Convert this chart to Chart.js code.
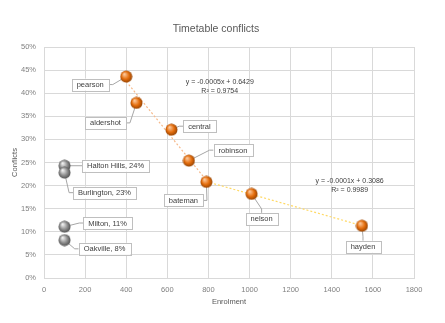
<!DOCTYPE html>
<html><head><meta charset="utf-8">
<script src="https://cdn.jsdelivr.net/npm/chart.js@4"></script>
<style>html,body{margin:0;padding:0;background:#fff}#wrap{width:445px;height:323px}</style>
</head><body><div id="wrap"><canvas id="c" width="445" height="323"></canvas></div>
<script>
// ---- data ----
const schoolNames = ['pearson','aldershot','central','robinson','bateman','nelson','hayden'];
const schoolEnrolment = [400,450,620,705,790,1010,1547];
const schoolConflicts = [0.436,0.379,0.321,0.254,0.208,0.182,0.113];
const townNames = ['Halton Hills','Burlington','Milton','Oakville'];
const townEnrolment = [100,100,100,100];
const townConflicts = [0.243,0.228,0.111,0.082];
const xTickValues = [0,200,400,600,800,1000,1200,1400,1600,1800];
const yTickValues = [0,0.05,0.10,0.15,0.20,0.25,0.30,0.35,0.40,0.45,0.50];
const trendGroups = [[0,1,2,3,4],[4,5,6]];
const trendEquations = ['y = -0.0005x + 0.6429','y = -0.0001x + 0.3086'];
const trendR2 = ['R² = 0.9754','R² = 0.9989'];

// ---- styling / label placement (pixel offsets from the point) ----
const schoolLabelOffsets = [[-36,8],[-31,20],[28,-3.5],[44,-10.5],[-23,18.5],[10,25],[1,21]];
const townLabelOffsets = [[51,0],[40,20],[43,-3.7],[40,8.7]];
const trendColors = ['#f6b98a','#ffd966'];
const eqAnchors = [[855,0.425],[1487,0.21]];

function sphere(light, mid, dark){
  const c=document.createElement('canvas'); c.width=13; c.height=13;
  const g=c.getContext('2d');
  const gr=g.createRadialGradient(4.5,4,0.5,6.5,6.5,6.5);
  gr.addColorStop(0,light); gr.addColorStop(0.55,mid); gr.addColorStop(1,dark);
  g.fillStyle=gr; g.beginPath(); g.arc(6.5,6.5,6,0,Math.PI*2); g.fill();
  return c;
}
const orangeBall = sphere('#fbc79a','#e46c0a','#8a3f05');
const greyBall = sphere('#f0f0f0','#8f8f8f','#4a4a4a');

function regress(xs, ys){
  const n=xs.length; const mx=xs.reduce((a,b)=>a+b,0)/n; const my=ys.reduce((a,b)=>a+b,0)/n;
  let sxy=0,sxx=0; for(let i=0;i<n;i++){sxy+=(xs[i]-mx)*(ys[i]-my); sxx+=(xs[i]-mx)**2;}
  const m=sxy/sxx; return {m, b: my-m*mx};
}
const trendDatasets = trendGroups.map((idx,k)=>{
  const xs=idx.map(i=>schoolEnrolment[i]), ys=idx.map(i=>schoolConflicts[i]);
  const r=regress(xs,ys); const x0=Math.min(...xs), x1=Math.max(...xs);
  return {type:'line', data:[{x:x0,y:r.m*x0+r.b},{x:x1,y:r.m*x1+r.b}], borderColor:trendColors[k],
    borderWidth:1.2, borderDash:[2,2], pointRadius:0, fill:false, order:3};
});

const FONT = '"Liberation Sans", Arial, sans-serif';
const labelPlugin = {
  id:'labels',
  beforeDatasetsDraw(chart){
    const ctx=chart.ctx;
    ctx.save();
    ctx.fillStyle='#595959'; ctx.font='10.5px '+FONT; ctx.textAlign='center'; ctx.textBaseline='middle';
    ctx.fillText('Timetable conflicts',216,29);
    ctx.font='7.5px '+FONT; ctx.fillStyle='#595959';
    ctx.fillText('Enrolment',(chart.chartArea.left+chart.chartArea.right)/2,302);
    ctx.save(); ctx.translate(15,(chart.chartArea.top+chart.chartArea.bottom)/2); ctx.rotate(-Math.PI/2);
    ctx.fillText('Conflicts',0,0); ctx.restore();
    // equations
    ctx.fillStyle='#404040'; ctx.font='7px '+FONT;
    const xs=chart.scales.x, ys=chart.scales.y;
    eqAnchors.forEach((a,k)=>{
      const px=xs.getPixelForValue(a[0]), py=ys.getPixelForValue(a[1]);
      ctx.fillText(trendEquations[k],px,py);
      ctx.fillText(trendR2[k],px,py+9.5);
    });
    // leader lines
    this._boxes=[];
    const groups=[[2,schoolNames.map(n=>n),schoolLabelOffsets],[3,townNames.map((n,i)=>n+', '+Math.round(townConflicts[i]*100)+'%'),townLabelOffsets]];
    ctx.font='7.5px '+FONT;
    groups.forEach(([di,texts,offs])=>{
      const meta=chart.getDatasetMeta(di);
      meta.data.forEach((el,i)=>{
        const w=ctx.measureText(texts[i]).width+10, h=12;
        const cx=el.x+offs[i][0], cy=el.y+offs[i][1];
        const L=cx-w/2, T=cy-h/2;
        this._boxes.push({L,T,w,h,text:texts[i],cx,cy});
        let ax,ay,sx,sy;
        if(el.x < L){ax=L;ay=cy;sx=ax-4;sy=ay;}
        else if(el.x > L+w){ax=L+w;ay=cy;sx=ax+4;sy=ay;}
        else if(el.y < T){ax=cx;ay=T;sx=ax;sy=ay-4;}
        else {ax=cx;ay=T+h;sx=ax;sy=ay+4;}
        ctx.strokeStyle='#a6a6a6'; ctx.lineWidth=1; ctx.beginPath();
        ctx.moveTo(ax,ay); ctx.lineTo(sx,sy); ctx.lineTo(el.x,el.y); ctx.stroke();
      });
    });
    ctx.restore();
  },
  afterDatasetsDraw(chart){
    const ctx=chart.ctx; ctx.save();
    ctx.font='7.5px '+FONT; ctx.textAlign='center'; ctx.textBaseline='middle';
    (this._boxes||[]).forEach(b=>{
      ctx.fillStyle='#ffffff'; ctx.fillRect(b.L,b.T,b.w,b.h);
      ctx.strokeStyle='#bfbfbf'; ctx.lineWidth=1; ctx.strokeRect(Math.round(b.L)+0.5,Math.round(b.T)+0.5,Math.round(b.w),Math.round(b.h));
      ctx.fillStyle='#404040'; ctx.fillText(b.text,b.cx,b.cy+0.5);
    });
    ctx.restore();
  }
};

new Chart(document.getElementById('c'),{
  type:'scatter',
  data:{datasets:[
    trendDatasets[0], trendDatasets[1],
    {label:'schools', data:schoolEnrolment.map((x,i)=>({x,y:schoolConflicts[i]})), pointStyle:orangeBall, pointRadius:6, order:1},
    {label:'towns', data:townEnrolment.map((x,i)=>({x,y:townConflicts[i]})), pointStyle:greyBall, pointRadius:6, order:1}
  ]},
  options:{
    responsive:false, animation:false, devicePixelRatio:1,
    layout:{padding:{top:47,right:31,left:0,bottom:0}},
    plugins:{legend:{display:false},tooltip:{enabled:false},title:{display:false}},
    scales:{
      x:{type:'linear',min:0,max:1800,
        afterBuildTicks(s){s.ticks=xTickValues.map(v=>({value:v}));},
        afterFit(s){s.height=45;},
        grid:{color:'#d9d9d9',drawTicks:false},border:{color:'#d9d9d9'},
        ticks:{padding:7,color:'#808080',font:{family:FONT,size:7.5},maxRotation:0,callback:v=>String(v)}},
      y:{type:'linear',min:0,max:0.5,
        afterBuildTicks(s){s.ticks=yTickValues.map(v=>({value:v}));},
        afterFit(s){s.width=44;},
        grid:{color:'#d9d9d9',drawTicks:false},border:{color:'#d9d9d9'},
        ticks:{padding:8,color:'#808080',font:{family:FONT,size:7.5},callback:v=>Math.round(v*100)+'%'}}
    }
  },
  plugins:[labelPlugin]
});
</script></body></html>
